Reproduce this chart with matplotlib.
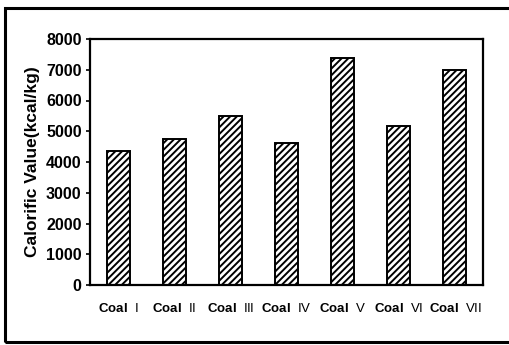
import matplotlib
matplotlib.use("Agg")
import matplotlib.pyplot as plt
from matplotlib.patches import Rectangle

plt.rcParams["font.family"] = ["Liberation Sans", "DejaVu Sans"]
plt.rcParams["mathtext.fontset"] = "custom"
plt.rcParams["mathtext.rm"] = "Liberation Sans"
plt.rcParams["mathtext.bf"] = "Liberation Sans:bold"
plt.rcParams["hatch.linewidth"] = 1.4

coals = ["I", "II", "III", "IV", "V", "VI", "VII"]
calorific = [4350, 4750, 5500, 4620, 7380, 5170, 6980]
yticks = [0, 1000, 2000, 3000, 4000, 5000, 6000, 7000, 8000]

W, H = 509, 345
fig = plt.figure(figsize=(W / 100, H / 100), dpi=100)
ax = fig.add_axes([90 / W, 1 - 285 / H, (483 - 90) / W, (285 - 39) / H])

x = range(len(coals))
ax.bar(x, calorific, width=0.41, color="white", edgecolor="black",
       linewidth=1.4, hatch="/////")
ax.set_xlim(-0.5, len(coals) - 0.5)
ax.set_ylim(0, 8000)
ax.set_yticks(yticks)
ax.set_yticklabels([str(v) for v in yticks], fontsize=11.5, fontweight="bold")
ax.set_xticks(list(x))
ax.set_xticklabels([r"$\bf{Coal}$  " + c for c in coals], fontsize=9.5)
ax.tick_params(axis="x", length=0, pad=12)
ax.tick_params(axis="y", length=3, width=1.2, direction="out", pad=3)
for s in ax.spines.values():
    s.set_linewidth(1.6)
ax.set_ylabel("Calorific Value(kcal/kg)", fontsize=12.5, fontweight="bold", labelpad=4)

# outer frame around the whole chart
fig.patches.append(Rectangle((5 / W, 1 - 342 / H), 1.0, (342 - 8) / H,
                             transform=fig.transFigure, fill=False,
                             edgecolor="black", linewidth=2.2))

fig.savefig("out.png", dpi=100)
